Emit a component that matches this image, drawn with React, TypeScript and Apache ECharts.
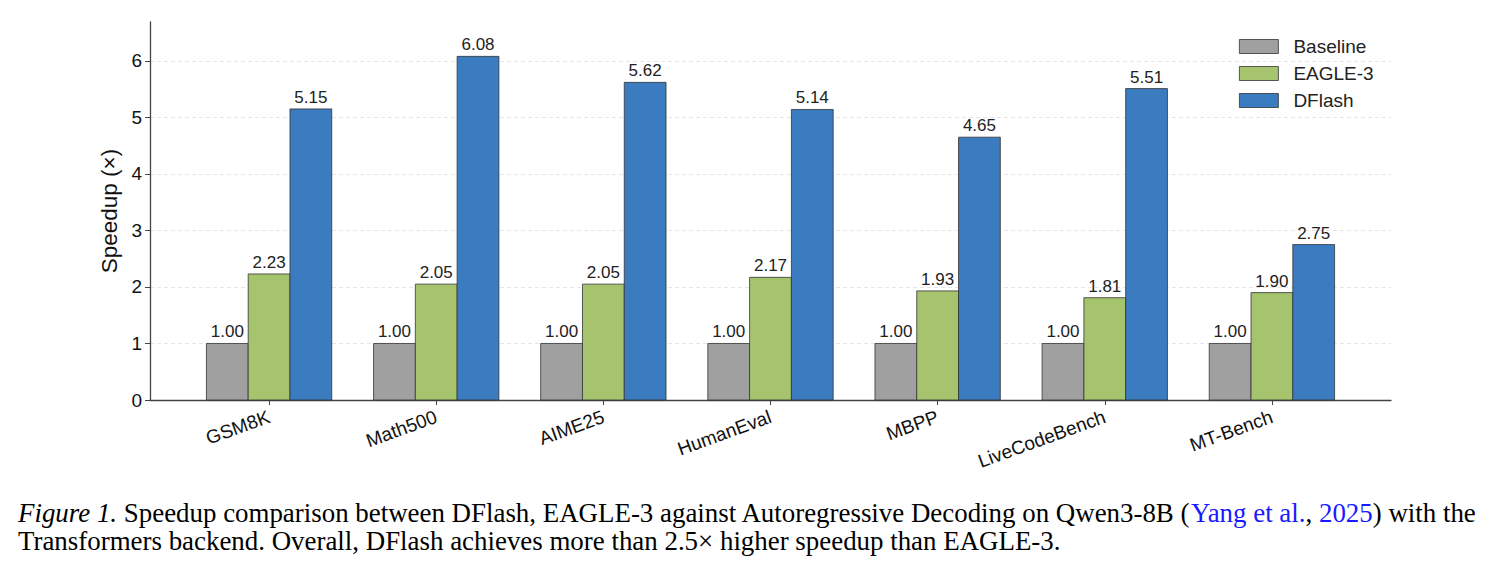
import React, { useEffect, useRef } from "react";
import * as echarts from "echarts";

const categories = ["GSM8K", "Math500", "AIME25", "HumanEval", "MBPP", "LiveCodeBench", "MT-Bench"];
const seriesNames = ["Baseline", "EAGLE-3", "DFlash"];
const baseline = [1.0, 1.0, 1.0, 1.0, 1.0, 1.0, 1.0];
const eagle3 = [2.23, 2.05, 2.05, 2.17, 1.93, 1.81, 1.9];
const dflash = [5.15, 6.08, 5.62, 5.14, 4.65, 5.51, 2.75];
const yTicks = [0, 1, 2, 3, 4, 5, 6];

const colors = ["#a0a0a0", "#a6c46e", "#3b7bbf"];
const BAR_W = 0.25;
const offsets = [-BAR_W, 0, BAR_W];
const SANS = '"Liberation Sans", Arial, sans-serif';
const SERIF = '"Liberation Serif", "Times New Roman", serif';
const CAPTION_SIZE = 26.9;

function makeSeries(name: string, values: number[], idx: number) {
  return {
    type: "custom",
    name,
    itemStyle: { color: colors[idx], borderColor: "#333", borderWidth: 0.8 },
    data: values.map((v, i) => [i, v]),
    renderItem: (params: any, api: any) => {
      const x = api.value(0) + offsets[idx];
      const y = api.value(1);
      const top = api.coord([x, y]);
      const base = api.coord([x, 0]);
      const w = api.size([BAR_W, 0])[0];
      return {
        type: "group",
        children: [
          {
            type: "rect",
            shape: { x: top[0] - w / 2, y: top[1], width: w, height: base[1] - top[1] },
            style: { fill: colors[idx], stroke: "#333", lineWidth: 0.8 },
          },
          {
            type: "text",
            x: top[0],
            y: top[1] - 3,
            style: {
              text: y.toFixed(2),
              fill: "#222",
              font: `17px ${SANS}`,
              align: "center",
              verticalAlign: "bottom",
            },
          },
        ],
      };
    },
  };
}

export default function App() {
  const ref = useRef<HTMLDivElement>(null);
  useEffect(() => {
    if (!ref.current) return;
    const chart = echarts.init(ref.current, null, { renderer: "svg" });
    const axisColor = "#444";
    chart.setOption({
      animation: false,
      backgroundColor: "#fff",
      grid: { left: 150, right: 100, top: 22, bottom: 174, containLabel: false },
      legend: {
        orient: "vertical",
        left: 1239,
        top: 37,
        padding: 0,
        itemWidth: 39,
        itemHeight: 14,
        itemGap: 8,
        icon: "rect",
        textStyle: { fontFamily: SANS, fontSize: 19, color: "#222", padding: [0, 0, 0, 10] },
        data: seriesNames.map((n, i) => ({
          name: n,
          itemStyle: { color: colors[i], borderColor: "#333", borderWidth: 0.8 },
        })),
      },
      xAxis: {
        type: "value",
        min: -0.7125,
        max: 6.7125,
        axisLine: { show: true, onZero: false, lineStyle: { color: axisColor, width: 1.3 } },
        axisTick: {
          show: true,
          customValues: categories.map((_, i) => i),
          length: 5,
          lineStyle: { color: axisColor, width: 1 },
        },
        axisLabel: {
          customValues: categories.map((_, i) => i),
          formatter: (v: number) => categories[Math.round(v)] ?? "",
          rotate: 20,
          margin: 16,
          fontFamily: SANS,
          fontSize: 19,
          color: "#111",
        },
        splitLine: { show: false },
      },
      yAxis: {
        type: "value",
        min: 0,
        max: 6.688,
        name: "Speedup (×)",
        nameLocation: "middle",
        nameGap: 29,
        nameTextStyle: { fontFamily: SANS, fontSize: 22.5, color: "#111" },
        axisLine: { show: true, onZero: false, lineStyle: { color: axisColor, width: 1.3 } },
        axisTick: { show: true, customValues: yTicks, length: 5, lineStyle: { color: axisColor } },
        axisLabel: {
          customValues: yTicks,
          margin: 8,
          fontFamily: SANS,
          fontSize: 19,
          color: "#111",
        },
        splitLine: {
          show: true,
          lineStyle: { color: "#e3e3e3", type: [4, 3], width: 0.9 },
        },
      },
      series: [
        makeSeries(seriesNames[0], baseline, 0),
        makeSeries(seriesNames[1], eagle3, 1),
        makeSeries(seriesNames[2], dflash, 2),
      ],
      graphic: [
        {
          type: "text",
          x: 18,
          y: 513,
          style: {
            text:
              "{it|Figure 1.} Speedup comparison between DFlash, EAGLE-3 against Autoregressive Decoding on Qwen3-8B ({ln|Yang et al.}, {ln|2025}) with the",
            font: `${CAPTION_SIZE}px ${SERIF}`,
            fill: "#000",
            verticalAlign: "middle",
            rich: {
              it: { font: `italic ${CAPTION_SIZE}px ${SERIF}`, fill: "#000" },
              ln: { font: `${CAPTION_SIZE}px ${SERIF}`, fill: "#1a1aff" },
            },
          },
        },
        {
          type: "text",
          x: 18,
          y: 541,
          style: {
            text: "Transformers backend. Overall, DFlash achieves more than 2.5× higher speedup than EAGLE-3.",
            font: `${CAPTION_SIZE}px ${SERIF}`,
            fill: "#000",
            verticalAlign: "middle",
          },
        },
      ],
    });
    return () => chart.dispose();
  }, []);
  return (
    <div
      ref={ref}
      style={{ position: "absolute", left: 0, top: 0, width: 1491, height: 574 }}
    />
  );
}
